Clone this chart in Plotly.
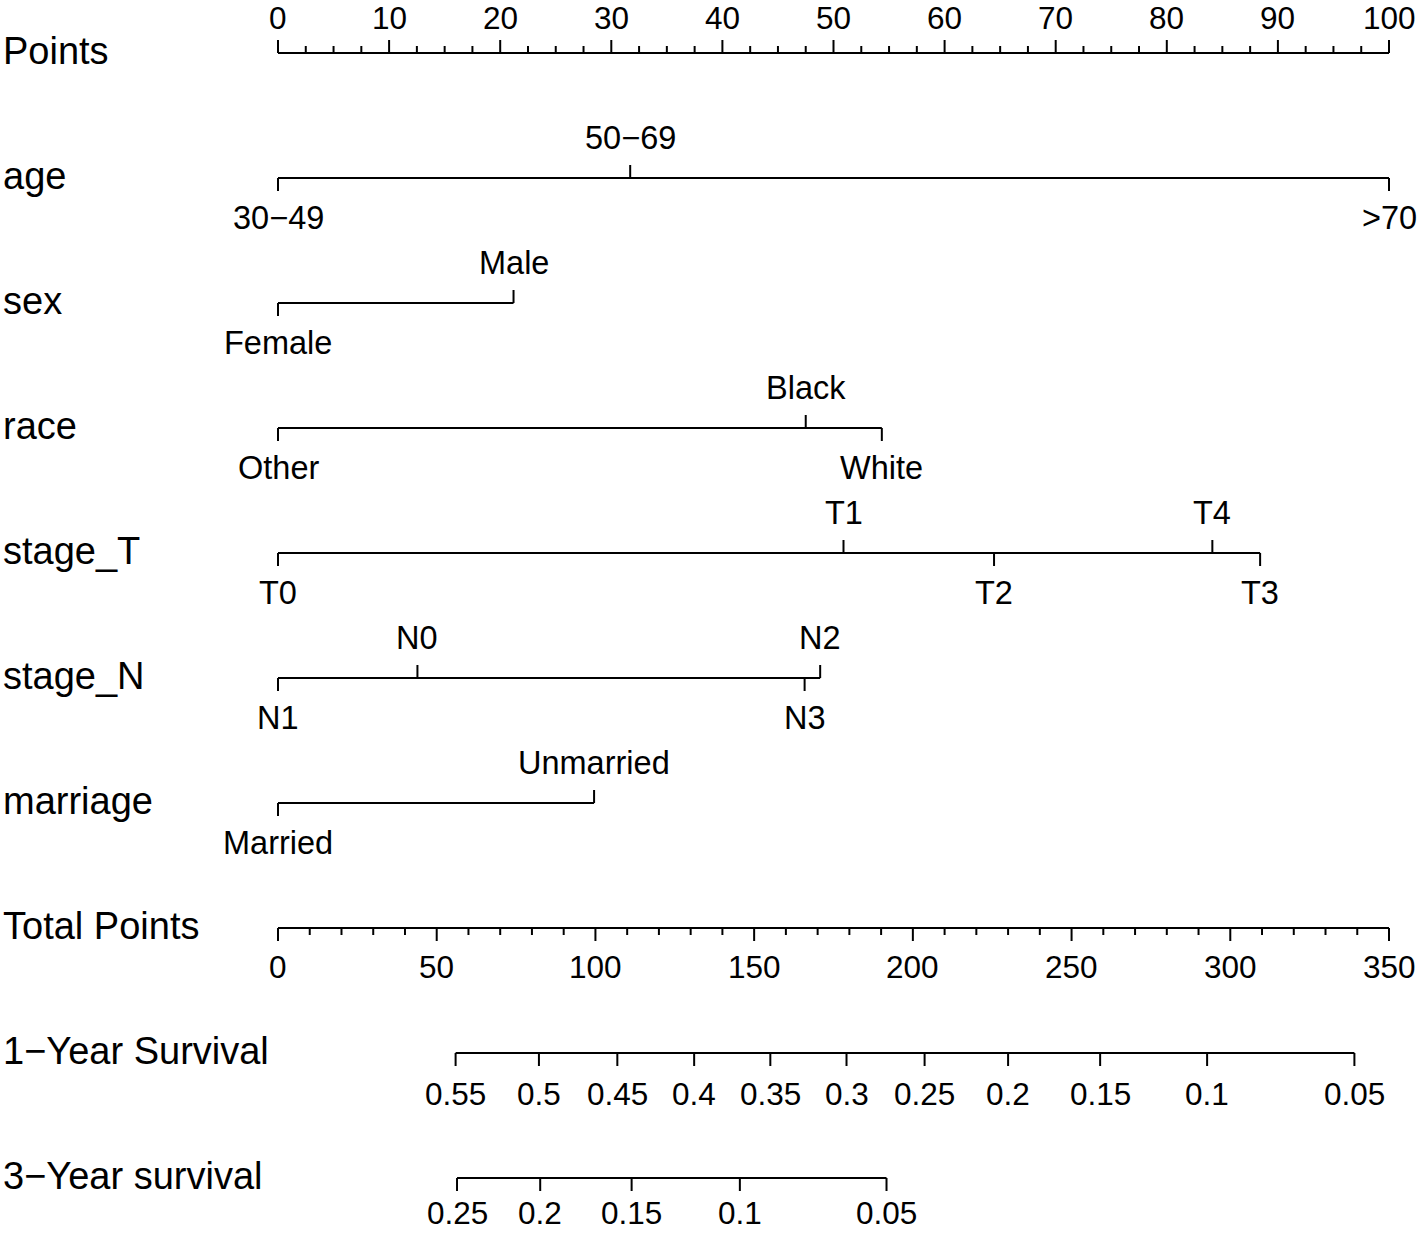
import plotly.graph_objects as go

# ---------------- data ----------------
row_labels = ["Points", "age", "sex", "race", "stage_T", "stage_N", "marriage",
              "Total Points", "1\u2212Year Survival", "3\u2212Year survival"]

points_major = [0, 10, 20, 30, 40, 50, 60, 70, 80, 90, 100]
points_minor_step = 2.5
points_max = 100

total_major = [0, 50, 100, 150, 200, 250, 300, 350]
total_minor_step = 10
total_max = 350

age_levels = ["30\u221249", "50\u221269", ">70"]
age_points = [0, 31.7, 100]

sex_levels = ["Female", "Male"]
sex_points = [0, 21.2]

race_levels = ["Other", "Black", "White"]
race_points = [0, 47.5, 54.35]

stageT_levels = ["T0", "T1", "T2", "T3", "T4"]
stageT_points = [0, 50.9, 64.45, 88.4, 84.1]

stageN_levels = ["N0", "N1", "N2", "N3"]
stageN_points = [12.55, 0, 48.8, 47.4]

marriage_levels = ["Married", "Unmarried"]
marriage_points = [0, 28.45]

surv1_labels = ["0.55", "0.5", "0.45", "0.4", "0.35", "0.3", "0.25", "0.2", "0.15", "0.1", "0.05"]
surv1_total = [55.95, 82.2, 106.9, 131.1, 155.1, 179.1, 203.7, 230.0, 259.0, 292.7, 339.1]

surv3_labels = ["0.25", "0.2", "0.15", "0.1", "0.05"]
surv3_total = [56.4, 82.6, 111.4, 145.5, 191.7]

# ---------------- layout constants ----------------
W, H = 1418, 1233
X0_PX, X100_PX = 278, 1389          # pixel of 0 and 100 points
ROW0_PX, ROW_PX = 53, 125            # pixel of first row and spacing
px_per_pt = (X100_PX - X0_PX) / points_max
x_range = [-X0_PX / px_per_pt, (W - X0_PX) / px_per_pt]
y_range = [(H - ROW0_PX) / ROW_PX, -ROW0_PX / ROW_PX]   # reversed

MAJOR_LEN = 13 / ROW_PX
MINOR_LEN = 7 / ROW_PX
LABEL_OFF = 40
FONT = "Liberation Sans, Arial, sans-serif"
NUM_FS = 31.5
CAT_FS = 32.5
ROW_FS = 38

def tot2pts(v):
    return v * points_max / total_max

xs, ys = [], []
annotations = []

def hline(row, x0, x1):
    xs.extend([x0, x1, None]); ys.extend([row, row, None])

def tick(row, x, length, up):
    ys_end = row - length if up else row + length
    xs.extend([x, x, None]); ys.extend([row, ys_end, None])

def label(row, x, text, up, off=LABEL_OFF, size=NUM_FS):
    annotations.append(dict(x=x, y=row, xref="x", yref="y", text=text, showarrow=False,
                            xanchor="center", yanchor="middle",
                            yshift=off if up else -off,
                            font=dict(family=FONT, size=size, color="black")))

# Row 0: Points scale
r = 0
hline(r, 0, points_max)
n_minor = int(points_max / points_minor_step)
for i in range(n_minor + 1):
    v = i * points_minor_step
    tick(r, v, MAJOR_LEN if v in points_major else MINOR_LEN, True)
for v in points_major:
    label(r, v, str(v), True, 35)

# Categorical rows
cats = [(age_levels, age_points), (sex_levels, sex_points), (race_levels, race_points),
        (stageT_levels, stageT_points), (stageN_levels, stageN_points),
        (marriage_levels, marriage_points)]
for k, (levs, pts) in enumerate(cats):
    r = 1 + k
    hline(r, min(pts), max(pts))
    order = sorted(range(len(pts)), key=lambda i: pts[i])
    for j, i in enumerate(order):
        up = (j % 2 == 1)
        tick(r, pts[i], MAJOR_LEN, up)
        label(r, pts[i], levs[i], up, LABEL_OFF, CAT_FS)

# Total points row
r = 7
hline(r, 0, tot2pts(total_max))
for i in range(int(total_max / total_minor_step) + 1):
    v = i * total_minor_step
    tick(r, tot2pts(v), MAJOR_LEN if v in total_major else MINOR_LEN, False)
for v in total_major:
    label(r, tot2pts(v), str(v), False, 39)

# Survival rows
for r, labs, tots, off in [(8, surv1_labels, surv1_total, 41), (9, surv3_labels, surv3_total, 35)]:
    hline(r, tot2pts(min(tots)), tot2pts(max(tots)))
    for lab, t in zip(labs, tots):
        tick(r, tot2pts(t), MAJOR_LEN, False)
        label(r, tot2pts(t), lab, False, off)

# Row labels
for r, txt in enumerate(row_labels):
    annotations.append(dict(x=1 / W, y=r, xref="paper", yref="y", text=txt, showarrow=False,
                            xanchor="left", yanchor="middle", yshift=2,
                            font=dict(family=FONT, size=ROW_FS, color="black")))

fig = go.Figure()
fig.add_trace(go.Scatter(x=xs, y=ys, mode="lines", line=dict(color="black", width=2),
                         hoverinfo="skip", showlegend=False, cliponaxis=False))
fig.update_layout(
    width=W, height=H, margin=dict(l=0, r=0, t=0, b=0),
    paper_bgcolor="white", plot_bgcolor="white",
    xaxis=dict(range=x_range, visible=False, fixedrange=True),
    yaxis=dict(range=y_range, visible=False, fixedrange=True),
    annotations=annotations, showlegend=False,
)
fig.write_html("out.html",
               config={"displayModeBar": False},
               post_script="document.body.style.margin='0';document.body.style.overflow='hidden';")
